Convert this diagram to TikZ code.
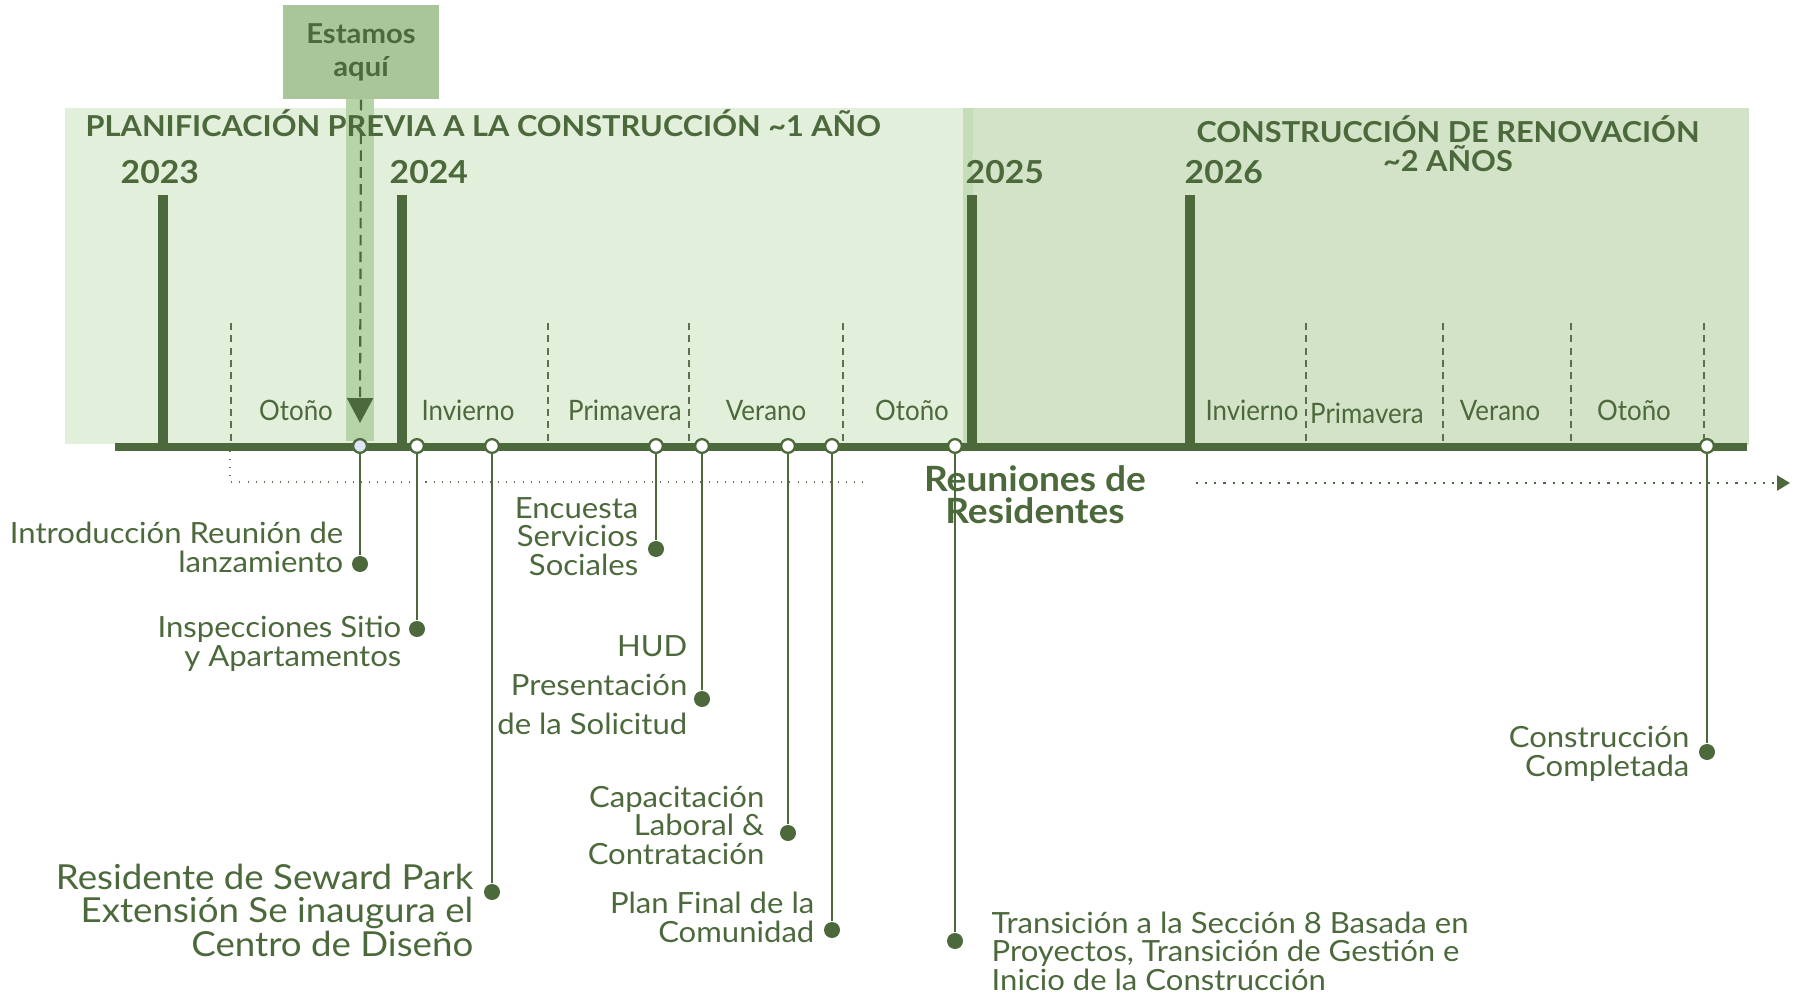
\documentclass[tikz,border=0pt]{standalone}
\usepackage{fontspec}
\setmainfont{Lato}[FakeStretch=1.065]
\newfontfamily\seasonfont{Lato}[FakeStretch=0.92]
\usetikzlibrary{arrows.meta, positioning}
\definecolor{dkgreen}{HTML}{4C693C}
\definecolor{planfill}{HTML}{E2EFDA}
\definecolor{buildfill}{HTML}{D3E3C8}
\definecolor{seamfill}{HTML}{C6DDB9}
\definecolor{herefill}{HTML}{A9C699}
\definecolor{stripfill}{HTML}{B7D4A6}
\definecolor{nowfill}{HTML}{DCE6F8}

\begin{document}
\begin{tikzpicture}[x=0.01cm, y=-0.01cm,
  lbl/.style={font=\fontsize{8.3}{8.05}\selectfont, text=dkgreen, align=right, inner sep=0pt},
  biglbl/.style={lbl, font=\fontsize{9.8}{9.5}\selectfont},
  season/.style={font=\seasonfont\fontsize{8}{9}\selectfont, text=dkgreen, inner sep=0pt, anchor=base},
  yearlbl/.style={font=\bfseries\fontsize{9}{10}\selectfont, text=dkgreen, inner sep=0pt, anchor=base west},
  phase/.style={font=\bfseries\fontsize{8.2}{8.25}\selectfont, text=dkgreen, inner sep=0pt, align=center},
  ring/.style={circle, draw=dkgreen, line width=0.65pt, fill=white, minimum size=0.137cm, inner sep=0pt},
  dot/.style={circle, fill=dkgreen, minimum size=0.16cm, inner sep=0pt},
  stem/.style={dkgreen, line width=0.75pt},
  yearbar/.style={dkgreen, line width=3.1pt},
  seasonline/.style={dkgreen!70!gray, line width=0.3pt, dash pattern=on 2pt off 1.5pt}]
  \useasboundingbox (0,0) rectangle (1796,994);
  % --- Phase panels ---
  \fill[planfill] (65,108) rectangle (973,444);
  \fill[buildfill] (963,108) rectangle (1749,445);
  \fill[seamfill] (963,108) rectangle (973,444);
  \fill[stripfill] (346,99) rectangle (374,441);
  \node[phase, anchor=base west] (planTitle) at (85,137) {PLANIFICACIÓN PREVIA A LA CONSTRUCCIÓN \textasciitilde1 AÑO};
  \node[phase, anchor=base] (buildTitle) at (1448,172) {CONSTRUCCIÓN DE RENOVACIÓN\\\textasciitilde2 AÑOS};
  % --- "Estamos aqui" marker ---
  \node[fill=herefill, minimum width=1.56cm, minimum height=0.94cm, inner sep=0pt,
        font=\bfseries\fontsize{7.8}{9.4}\selectfont, text=dkgreen, align=center] (here) at (361,52) {Estamos\\aquí};
  \coordinate (hereTip) at (360,423);
  \draw[dkgreen, line width=0.6pt, dash pattern=on 3pt off 1.8pt,
        -{Triangle[width=7.4pt, length=7.1pt]}] (here.south) -- (hereTip);
  % --- Season separators ---
  \foreach \x in {231,548,689,843,1306,1443,1571,1704} {
    \draw[seasonline] (\x,323) -- (\x,442);
  }
  % --- Season labels ---
  \foreach \x/\s in {296/Otoño,468/Invierno,625/Primavera,766/Verano,912/Otoño,
                     1252/Invierno,1500/Verano,1634/Otoño} {
    \node[season] at (\x,421) {\s};
  }
  \node[season] at (1367,423) {Primavera};
  % --- Years ---
  \foreach \x/\y in {163/2023,402/2024,972/2025,1190/2026} {
    \draw[yearbar] (\x,195) -- (\x,443);
  }
  \node[yearlbl] (y23) at (120,184) {2023};
  \node[yearlbl] (y24) at (389,184) {2024};
  \node[yearlbl] (y25) at (965,184) {2025};
  \node[yearlbl] (y26) at (1184,184) {2026};
  % --- Axis ---
  \draw[dkgreen, line width=2.3pt] (115,447) -- (1747,447);
  \draw[dkgreen!60!gray, line width=0.3pt, dotted] (230,451) -- (230,482) -- (864,482);
  \coordinate (moreEnd) at (1790,483);
  \draw[dkgreen, line width=0.6pt, dotted, -{Triangle[width=4.3pt, length=3.7pt]}] (1196,483) -- (moreEnd);
  % --- Milestones on the axis ---
  \node[ring, fill=nowfill] (cIntro) at (360,446) {};
  \foreach \x/\n in {417/cInsp,492/cRes,656/cEnc,702/cHud,788/cCap,832/cPlan,955/cTrans,1707/cComp} {
    \node[ring] (\n) at (\x,446) {};
  }
  % --- Drop points ---
  \node[dot] (dIntro) at (360,564) {};
  \node[dot] (dInsp) at (417,629) {};
  \node[dot] (dRes) at (492,892) {};
  \node[dot] (dEnc) at (656,549) {};
  \node[dot] (dHud) at (702,699) {};
  \node[dot] (dCap) at (788,833) {};
  \node[dot] (dPlan) at (832,930) {};
  \node[dot] (dTrans) at (955,941) {};
  \node[dot] (dComp) at (1707,752) {};
  \foreach \n in {Intro,Insp,Res,Enc,Hud,Cap,Plan,Trans,Comp} {
    \draw[stem] (c\n) -- (d\n);
  }
  % --- Milestone texts ---
  \node[font=\bfseries\fontsize{9.9}{9.2}\selectfont, text=dkgreen, align=center, inner sep=0pt, anchor=base]
    (meet) at (1035,524) {Reuniones de\\Residentes};
  \node[lbl, anchor=base east] (tIntro) at (344,572) {Introducción Reunión de\\lanzamiento};
  \node[lbl, anchor=base east] (tInsp) at (402,666) {Inspecciones Sitio\\y Apartamentos};
  \node[biglbl, anchor=base east] (tRes) at (474,956) {Residente de Seward Park\\Extensión Se inaugura el\\Centro de Diseño};
  \node[lbl, anchor=base east] (tEnc) at (639,575) {Encuesta\\Servicios\\Sociales};
  \node[lbl, font=\fontsize{8.3}{10.95}\selectfont, anchor=base east] (tHud) at (688,734) {HUD\\Presentación\\de la Solicitud};
  \node[lbl, anchor=base east] (tCap) at (765,864) {Capacitación\\Laboral \&\\Contratación};
  \node[lbl, anchor=base east] (tPlan) at (815,942) {Plan Final de la\\Comunidad};
  \node[lbl, align=left, anchor=base west] (tTrans) at (991,990) {Transición a la Sección 8 Basada en\\Proyectos, Transición de Gestión e\\Inicio de la Construcción};
  \node[lbl, anchor=base east] (tComp) at (1690,776) {Construcción\\Completada};
\end{tikzpicture}
\end{document}
